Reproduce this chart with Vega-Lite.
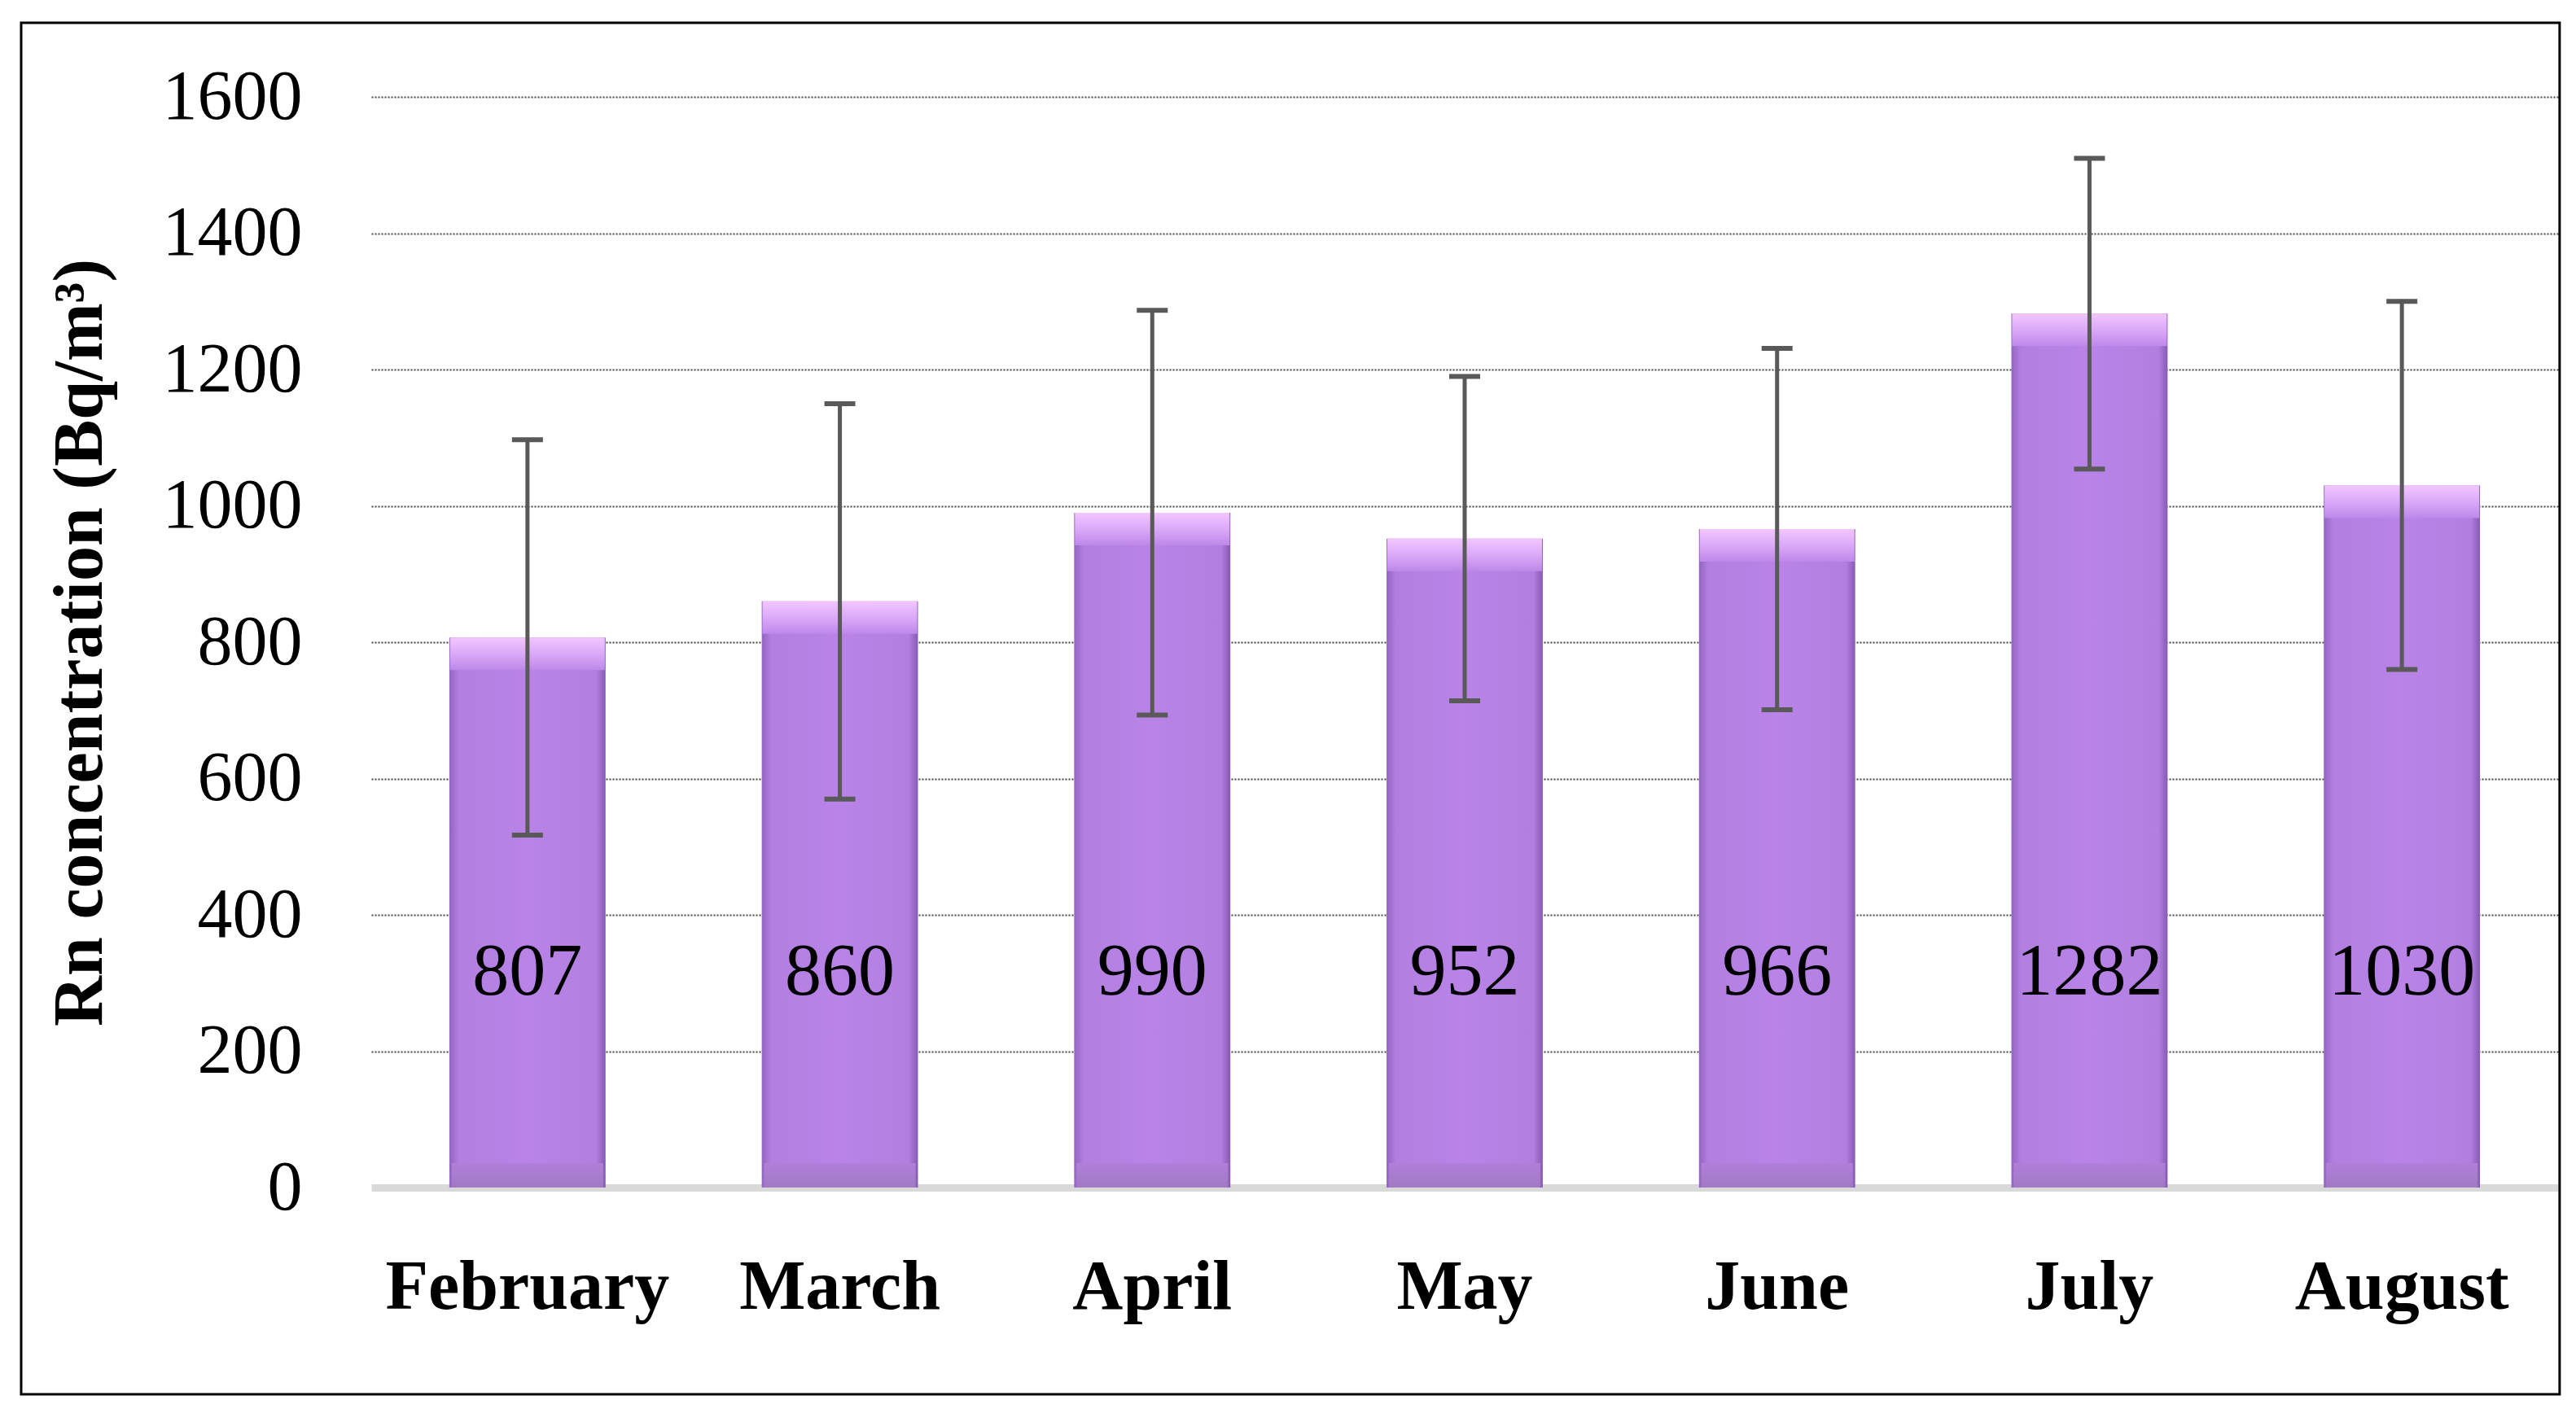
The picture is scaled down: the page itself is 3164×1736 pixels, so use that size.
{
  "$schema": "https://vega.github.io/schema/vega-lite/v6.json",
  "width": 2686,
  "height": 1340,
  "padding": {"left": 24, "top": 26, "right": 20, "bottom": 20},
  "background": "white",
  "config": {"view": {"stroke": null}, "font": "Liberation Serif"},
  "resolve": {"scale": {"x": "independent"}},
  "layer": [
    {
      "data": {"values": [
        {"month": "February", "value": 807, "lo": 517, "hi": 1097},
        {"month": "March", "value": 860, "lo": 570, "hi": 1150},
        {"month": "April", "value": 990, "lo": 693, "hi": 1287},
        {"month": "May", "value": 952, "lo": 714, "hi": 1190},
        {"month": "June", "value": 966, "lo": 701, "hi": 1231},
        {"month": "July", "value": 1282, "lo": 1054, "hi": 1510},
        {"month": "August", "value": 1030, "lo": 760, "hi": 1300}
      ]},
      "encoding": {
        "x": {
          "field": "month", "type": "nominal", "sort": null,
          "scale": {"paddingInner": 0.5, "paddingOuter": 0.25},
          "axis": {
            "title": null, "labelAngle": 0, "labelFont": "Liberation Serif",
            "labelFontSize": 86, "labelFontWeight": "bold", "labelColor": "black",
            "labelBaseline": "top", "labelPadding": 80, "labelLimit": 0, "ticks": false,
            "domainColor": "#d9d9d9", "domainWidth": 9, "grid": false
          }
        }
      },
      "layer": [
        {
          "mark": {"type": "bar", "color": {"gradient": "linear", "x1": 0, "x2": 1, "y1": 0, "y2": 0,
            "stops": [
              {"offset": 0, "color": "#9265bf"},
              {"offset": 0.06, "color": "#b27fe0"},
              {"offset": 0.5, "color": "#b983e7"},
              {"offset": 0.94, "color": "#b27fe0"},
              {"offset": 1, "color": "#875ab2"}
            ]}},
          "encoding": {
            "y": {
              "field": "value", "type": "quantitative", "title": "Rn concentration (Bq/m³)",
              "scale": {"domain": [0, 1600], "nice": false},
              "axis": {
                "values": [0, 200, 400, 600, 800, 1000, 1200, 1400, 1600],
                "format": "d", "labelLimit": 0,
                "titleFont": "Liberation Serif", "titleFontSize": 86, "titleFontWeight": "bold",
                "titleColor": "black", "titlePadding": 114,
                "labelFont": "Liberation Serif", "labelFontSize": 86, "labelColor": "black",
                "labelPadding": 85, "ticks": false, "domain": false,
                "grid": true, "gridDash": [2, 2], "gridWidth": 2,
                "gridColor": {"condition": {"test": "datum.value === 0", "value": "transparent"}, "value": "#444444"}
              }
            }
          }
        },
        {
          "mark": {"type": "tick", "thickness": 40, "size": 190, "yOffset": 20, "opacity": 1,
            "color": {"gradient": "linear", "x1": 0, "x2": 0, "y1": 0, "y2": 1,
              "stops": [
                {"offset": 0, "color": "#f2c6ff"},
                {"offset": 0.5, "color": "#dba9f8"},
                {"offset": 1, "color": "#bd88e9"}
              ]}},
          "encoding": {
            "y": {"field": "value", "type": "quantitative", "title": "Rn concentration (Bq/m³)"}
          }
        },
        {
          "mark": {"type": "tick", "thickness": 30, "size": 186, "yOffset": -15, "opacity": 1,
            "color": {"gradient": "linear", "x1": 0, "x2": 0, "y1": 0, "y2": 1,
              "stops": [
                {"offset": 0, "color": "#b07fd9"},
                {"offset": 1, "color": "#a079c4"}
              ]}},
          "encoding": {
            "y": {"datum": 0, "type": "quantitative", "title": "Rn concentration (Bq/m³)"}
          }
        },
        {
          "mark": {"type": "rule", "color": "#595959", "strokeWidth": 5},
          "encoding": {
            "y": {"field": "lo", "type": "quantitative", "title": "Rn concentration (Bq/m³)"},
            "y2": {"field": "hi"}
          }
        },
        {
          "mark": {"type": "tick", "color": "#595959", "size": 38, "thickness": 6, "opacity": 1},
          "encoding": {
            "y": {"field": "lo", "type": "quantitative", "title": "Rn concentration (Bq/m³)"}
          }
        },
        {
          "mark": {"type": "tick", "color": "#595959", "size": 38, "thickness": 6, "opacity": 1},
          "encoding": {
            "y": {"field": "hi", "type": "quantitative", "title": "Rn concentration (Bq/m³)"}
          }
        },
        {
          "mark": {"type": "text", "font": "Liberation Serif", "fontSize": 90, "color": "black", "baseline": "middle"},
          "encoding": {
            "y": {"datum": 315, "type": "quantitative", "title": "Rn concentration (Bq/m³)"},
            "text": {"field": "value", "type": "quantitative", "format": "d"}
          }
        }
      ]
    },
    {
      "data": {"values": [{}]},
      "mark": {"type": "rect", "filled": false, "stroke": "black", "strokeWidth": 3, "clip": false},
      "encoding": {
        "x": {"datum": -0.1601, "type": "quantitative", "scale": {"domain": [0, 1], "nice": false, "zero": false}, "axis": null},
        "x2": {"datum": 1.0007},
        "y": {"datum": 1708.7, "type": "quantitative", "scale": {"domain": [0, 1600], "nice": false}, "title": "Rn concentration (Bq/m³)"},
        "y2": {"datum": -303.3}
      }
    }
  ]
}
